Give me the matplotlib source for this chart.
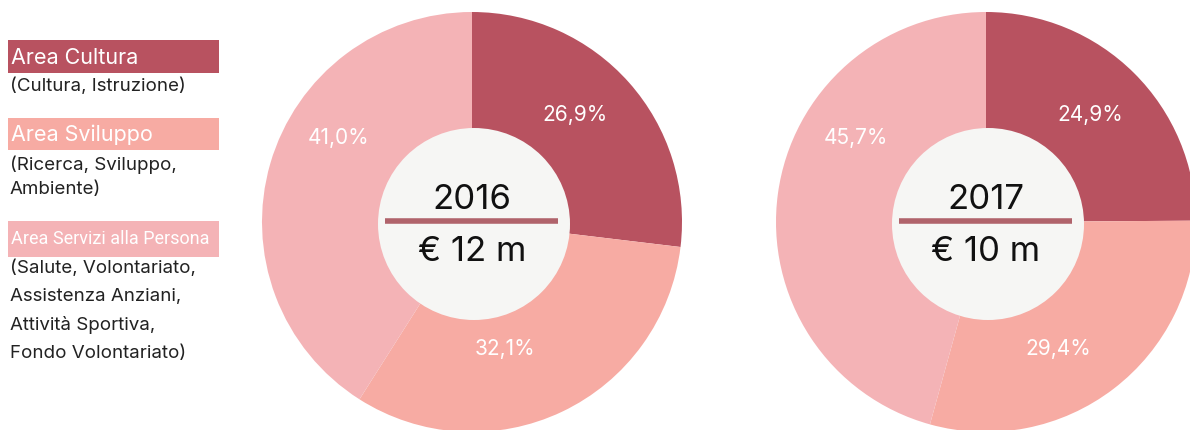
import matplotlib.pyplot as plt
from matplotlib.patches import Circle, Rectangle

# data
areas = ['Area Cultura', 'Area Sviluppo', 'Area Servizi alla Persona']
area_notes = ['(Cultura, Istruzione)',
              '(Ricerca, Sviluppo,\nAmbiente)',
              '(Salute, Volontariato,\nAssistenza Anziani,\nAttività Sportiva,\nFondo Volontariato)']
years = ['2016', '2017']
totals = ['€ 12 m', '€ 10 m']
shares_2016 = [26.9, 32.1, 41.0]
shares_2017 = [24.9, 29.4, 45.7]

colors = ['#B85260', '#F7ABA3', '#F4B3B6']
center_bg = '#F6F6F4'
line_col = '#B0636B'

plt.rcParams['font.family'] = ['Inter', 'DejaVu Sans']

W, H = 1190, 430
fig = plt.figure(figsize=(W / 100, H / 100), dpi=100)
ax = fig.add_axes([0, 0, 1, 1])


def Y(y):
    return H - y


def pct(p):
    return f'{p:.1f}%'.replace('.', ',')


def donut(shares, cx, cy, year, total, label_pos):
    wedges, _, autotexts = ax.pie(shares, colors=colors, startangle=90, counterclock=False,
                                  center=(cx, Y(cy)), radius=210, frame=True,
                                  autopct=pct, pctdistance=0.7,
                                  wedgeprops=dict(linewidth=0))
    # nudge labels to where the original puts them
    for t, (lx, ly) in zip(autotexts, label_pos):
        t.set_position((lx, Y(ly)))
        t.set_color('white')
        t.set_fontsize(15)
    ax.add_patch(Circle((cx + 2, Y(cy + 2)), 96, facecolor=center_bg, edgecolor='none', zorder=3))
    ax.text(cx, Y(200), year, ha='center', va='center', fontsize=25, color='#111111', zorder=4)
    ax.plot([cx - 87, cx + 86], [Y(221), Y(221)], color=line_col, lw=4, solid_capstyle='butt', zorder=4)
    ax.text(cx, Y(252), total, ha='center', va='center', fontsize=25, color='#111111', zorder=4)


donut(shares_2016, 472, 222, years[0], totals[0], [(575, 115), (505, 349), (339, 138)])
donut(shares_2017, 986, 222, years[1], totals[1], [(1090, 115), (1058, 349), (856, 138)])

# legend
box_tops = [40, 118, 221]
box_h = [33, 32, 36]
note_gap = [5, 5, 3]
note_spacing = [1.6, 1.6, 1.8]
for i, name in enumerate(areas):
    top = box_tops[i]
    ax.add_patch(Rectangle((8, Y(top + box_h[i])), 211, box_h[i], facecolor=colors[i],
                           edgecolor='none', zorder=2))
    if i < 2:
        ax.text(11, Y(top + box_h[i] / 2 + 1), name, ha='left', va='center', fontsize=15.5,
                color='white', zorder=3)
    else:
        ax.text(11, Y(top + box_h[i] / 2), name, ha='left', va='center', fontsize=13,
                color='white', family=['Roboto', 'DejaVu Sans'], zorder=3)
    ax.text(10, Y(top + box_h[i] + note_gap[i]), area_notes[i], ha='left', va='top', fontsize=13.5,
            color='#222222', linespacing=note_spacing[i], zorder=3)

ax.set_xlim(0, W)
ax.set_ylim(0, H)
ax.set_aspect('auto')
ax.axis('off')

fig.savefig('out.png', dpi=100, facecolor='white')
